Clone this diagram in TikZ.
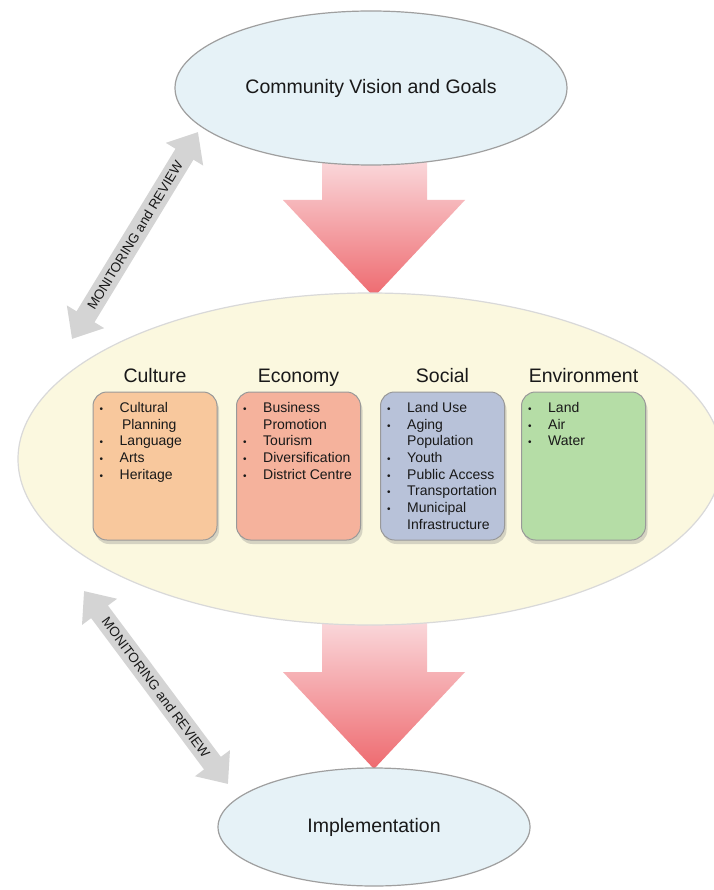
\documentclass[tikz,border=0pt]{standalone}
\usepackage{fontspec}
\setmainfont{Liberation Sans}
\usepackage{xcolor}
\usetikzlibrary{positioning}
\usetikzlibrary{shapes.geometric}
\usetikzlibrary{arrows.meta}
\usetikzlibrary{shadows}

\definecolor{ovalblue}{HTML}{E6F2F7}
\definecolor{ovalcream}{HTML}{FBF8DF}
\definecolor{cultcol}{HTML}{F8C89D}
\definecolor{econcol}{HTML}{F5B29C}
\definecolor{soccol}{HTML}{B8C2D9}
\definecolor{envcol}{HTML}{B5DDA6}
\definecolor{arrowtop}{HTML}{FBE0E3}
\definecolor{arrowbot}{HTML}{EE6A6F}
\definecolor{revgray}{HTML}{D4D4D4}

\tikzset{
  oval/.style={ellipse, draw=gray!75, line width=1.2pt, fill=ovalblue,
    font=\fontsize{19.5}{22}\selectfont, text=black!90},
  pillar/.style={draw=gray!80, line width=1pt, rounded corners=14pt,
    minimum width=124pt, minimum height=148pt,
    drop shadow={shadow xshift=2pt, shadow yshift=-4pt, opacity=.3, fill=gray}},
  pillarhead/.style={font=\fontsize{19.5}{22}\selectfont, text=black!90},
  pillarlist/.style={inner sep=0pt, font=\fontsize{14}{16.7}\selectfont, text=black!90},
  flowarrow/.style={top color=arrowtop, bottom color=arrowbot, draw=none},
  review/.style={draw=revgray, line width=21pt,
    {Triangle[width=42pt,length=26pt]}-{Triangle[width=42pt,length=26pt]}},
  revtext/.style={font=\fontsize{13.5}{15}\selectfont, text=black!90}
}
\newcommand{\blt}{{\fontsize{10}{10}\selectfont\textbullet}}

\begin{document}
\begin{tikzpicture}[x=1pt,y=-1pt]
\useasboundingbox [fill=white] (0,0) rectangle (713,890);

% big arrows
\path [flowarrow] (322,150) -- (427,150) -- (427,200) -- (465,200) -- (374,297) -- (283,200) -- (322,200) -- cycle;
\path [flowarrow] (322,610) -- (427,610) -- (427,672) -- (465,672) -- (374,769) -- (283,672) -- (322,672) -- cycle;

\node [oval, minimum width=392pt, minimum height=154pt] (vision) at (371,88) {Community Vision and Goals};
\node [oval, fill=ovalcream, draw=black!15, minimum width=704pt, minimum height=332pt] (pillars) at (370,459) {};
\node [oval, minimum width=312pt, minimum height=118pt] (impl) at (374,827) {Implementation};

% the four boxes
\node [pillar, fill=cultcol] (cultbox) at (155,466) {};
\node [pillar, fill=econcol] (econbox) at (298.5,466) {};
\node [pillar, fill=soccol] (socbox) at (442.5,466) {};
\node [pillar, fill=envcol] (envbox) at (583.5,466) {};

\node [pillarhead, above=9pt of cultbox.north, anchor=base] (cultname) {Culture};
\node [pillarhead, above=9pt of econbox.north, anchor=base] (econname) {Economy};
\node [pillarhead, above=9pt of socbox.north, anchor=base] (socname) {Social};
\node [pillarhead, above=9pt of envbox.north, anchor=base] (envname) {Environment};

\node [pillarlist, below right=9pt and 7pt of cultbox.north west] (cultlist) {%
\begin{tabular}{@{}p{20pt}@{}l@{}}
\blt & Cultural\\
 & \,Planning\\
\blt & Language\\
\blt & Arts\\
\blt & Heritage
\end{tabular}};
\node [pillarlist, below right=9pt and 7pt of econbox.north west] (econlist) {%
\begin{tabular}{@{}p{20pt}@{}l@{}}
\blt & Business\\
 & Promotion\\
\blt & Tourism\\
\blt & Diversification\\
\blt & District Centre
\end{tabular}};
\node [pillarlist, below right=9pt and 7pt of socbox.north west] (soclist) {%
\begin{tabular}{@{}p{20pt}@{}l@{}}
\blt & Land Use\\
\blt & Aging\\
 & Population\\
\blt & Youth\\
\blt & Public Access\\
\blt & Transportation\\
\blt & Municipal\\
 & Infrastructure
\end{tabular}};
\node [pillarlist, below right=9pt and 7pt of envbox.north west] (envlist) {%
\begin{tabular}{@{}p{20pt}@{}l@{}}
\blt & Land\\
\blt & Air\\
\blt & Water
\end{tabular}};

% monitoring and review
\coordinate (revA) at (72,339);
\coordinate (revB) at (198,132);
\coordinate (revC) at (84,591);
\coordinate (revD) at (228,784);
\draw [review] (revA) -- (revB) node [revtext, midway, sloped] (revtop) {MONITORING and REVIEW};
\draw [review] (revC) -- (revD) node [revtext, midway, sloped] (revbot) {MONITORING and REVIEW};
\end{tikzpicture}
\end{document}
